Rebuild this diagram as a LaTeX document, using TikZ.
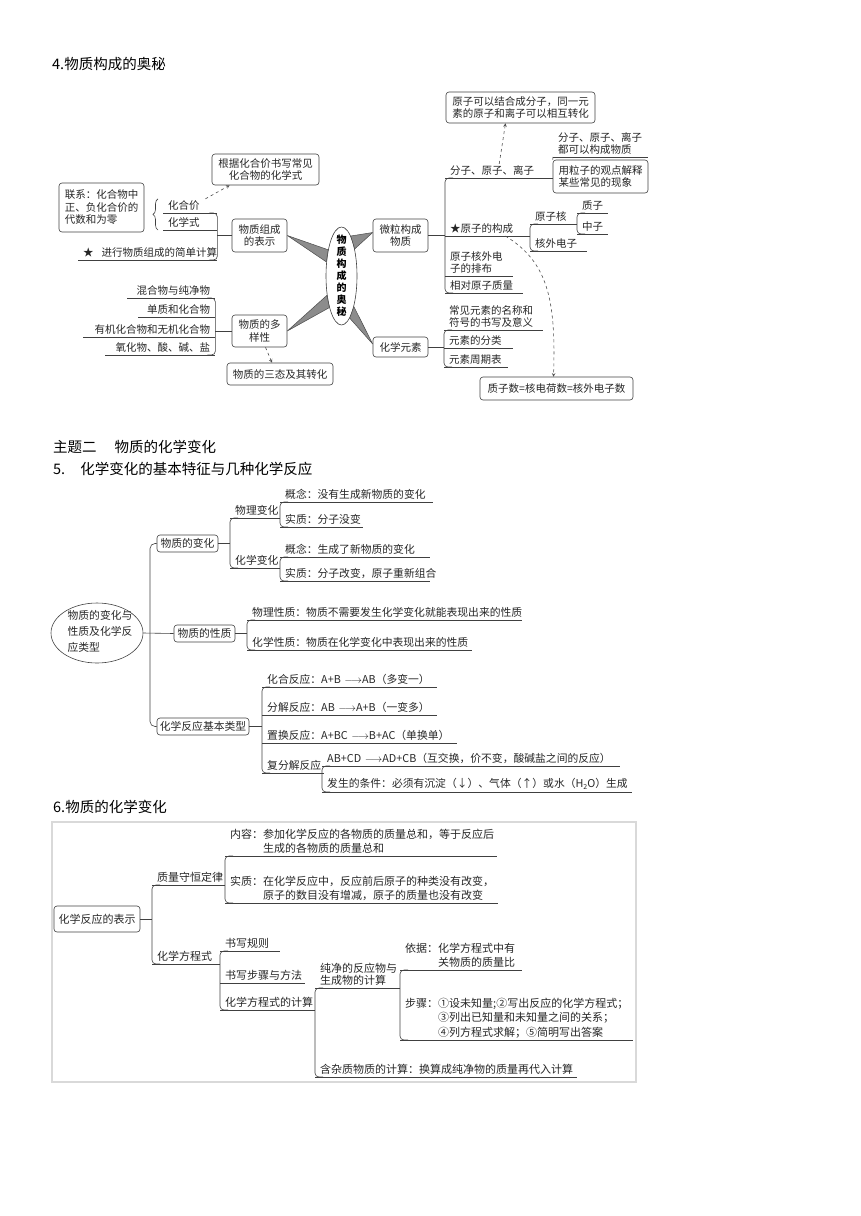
\documentclass[tikz,border=0pt]{standalone}
\usepackage{fontspec}
\setmainfont{Noto Sans CJK SC}
\usepackage{tikz}
\usetikzlibrary{arrows,shapes.geometric,decorations.pathreplacing}
\tikzset{>=stealth}
\tikzstyle{heading} = [anchor=base west, inner sep=0pt, font=\fontsize{14.5}{17}\selectfont]
\tikzstyle{branch} = [draw=black!75, line width=0.6pt]
\tikzstyle{topic} = [rectangle, rounded corners=3pt, draw=black!75, line width=0.6pt, align=center, inner sep=1pt, text=black!85]
\tikzstyle{leaf} = [anchor=south west, inner xsep=5pt, inner ysep=2pt, align=left, text=black!85, append after command={(\tikzlastnode.south west) edge[branch] (\tikzlastnode.south east)}]
\tikzstyle{wedge} = [fill=black!45, draw=black!70, line width=0.5pt, line join=round]
\tikzstyle{dasharrow} = [draw=black!70, line width=0.6pt, dashed, ->]
\tikzstyle{frame} = [draw=black!15, line width=1.2pt]
\tikzstyle{fourth} = [font=\fontsize{10.5}{12.5}\selectfont]
\tikzstyle{fifth} = [font=\fontsize{10.8}{16}\selectfont]
\tikzstyle{sixth} = [font=\fontsize{11}{14.5}\selectfont]

\begin{document}
\begin{tikzpicture}[x=1pt, y=-1pt]

\useasboundingbox (0,0) rectangle (860,1216);

\node (title4) [heading] at (52,69) {4.物质构成的奥秘};

\node (title5a) [heading] at (53,452) {主题二\hspace{18pt}物质的化学变化};

\node (title5b) [heading] at (53,474) {5.\hspace{15pt}化学变化的基本特征与几种化学反应};

\node (title6) [heading] at (53,812) {6.物质的化学变化};

\begin{scope}[fourth]

\node (core) [ellipse, draw=black!75, line width=0.6pt, minimum width=31pt, minimum height=98pt, inner sep=0pt] at (341.5,276) {};
\node (coretext) [font=\fontsize{10}{12}\selectfont\bfseries, align=center, inner sep=0pt] at (341.5,276) {物\\质\\构\\成\\的\\奥\\秘};

\node (calc) [topic, minimum width=107pt, minimum height=31pt] at (265.5,169.5) {根据化合价书写常见\\化合物的化学式};

\node (link) [topic, align=left, minimum width=85pt, minimum height=49pt] at (101.5,207.5) {联系：化合物中\\正、负化合价的\\代数和为零};

\node (show) [topic, minimum width=55pt, minimum height=33pt] at (259.5,235.5) {物质组成\\的表示};

\node (vary) [topic, minimum width=55pt, minimum height=32pt] at (259.5,331) {物质的多\\样性};

\node (state) [topic, minimum width=106pt, minimum height=22pt] at (280,374) {物质的三态及其转化};

\node (micro) [topic, minimum width=55pt, minimum height=33pt] at (400.5,235.5) {微粒构成\\物质};

\node (elem) [topic, minimum width=55pt, minimum height=20pt] at (400.5,347) {化学元素};

\node (trans) [topic, minimum width=149pt, minimum height=31pt] at (520.5,107.5) {原子可以结合成分子，同一元\\素的原子和离子可以相互转化};

\node (explain) [topic, align=left, minimum width=95pt, minimum height=33pt] at (600.5,176.5) {用粒子的观点解释\\某些常见的现象};

\node (equal) [topic, minimum width=153pt, minimum height=23pt] at (556.5,388.5) {质子数=核电荷数=核外电子数};

\node (valence) [leaf, text width=44pt] at (163,213) {化合价};
\node (formula) [leaf, text width=44pt] at (163,230) {化学式};
\node (simple) [leaf, align=right, text width=129pt] at (78,260) {\mbox{★\hspace{8pt}进行物质组成的简单计算}};

\node (mixture) [leaf, align=right, text width=78pt] at (127,298) {混合物与纯净物};
\node (element) [leaf, align=right, text width=67pt] at (138,317) {单质和化合物};
\node (organic) [leaf, align=right, text width=122pt] at (83,337) {有机化合物和无机化合物};
\node (oxide) [leaf, align=right, text width=100pt] at (105,355) {氧化物、酸、碱、盐};

\node (particle) [leaf, text width=98pt] at (445,178) {分子、原子、离子};
\node (atom) [leaf, text width=75pt] at (445,236) {★原子的构成};
\node (shell) [leaf, text width=58pt] at (445,276) {原子核外电\\子的排布};
\node (mass) [leaf, text width=68pt] at (445,293) {相对原子质量};

\node (build) [leaf, text width=85pt] at (553,157) {分子、原子、离子\\都可以构成物质};

\node (nucleus) [leaf, text width=37pt] at (530,224) {原子核};
\node (electron) [leaf, text width=47pt] at (530,251) {核外电子};
\node (proton) [leaf, text width=21pt] at (577,213) {质子};
\node (neutron) [leaf, text width=21pt] at (577,234) {中子};

\node (symbol) [leaf, text width=89pt] at (444,330) {常见元素的名称和\\符号的书写及意义};
\node (sort) [leaf, text width=59pt] at (444,348) {元素的分类};
\node (table) [leaf, text width=54pt] at (444,367) {元素周期表};

\end{scope}

\filldraw [wedge] (show.east) -- (core.117) -- (core.137) -- cycle;
\filldraw [wedge] ([yshift=3pt]micro.west) -- (core.77) -- (core.64) -- cycle;
\filldraw [wedge] (vary.east) -- (core.233) -- (core.249) -- cycle;
\filldraw [wedge] ([yshift=3pt]elem.west) -- (core.281) -- (core.292) -- cycle;

\draw [branch, rounded corners=4pt] ([xshift=-8pt]valence.south east) -- (valence.south east) -- (simple.south east) -- ([xshift=-8pt]simple.south east);
\draw [branch] (show.west) -- (show.west -| valence.south east);
\draw [branch, decorate, decoration={brace, amplitude=5pt}] ([xshift=-5pt]formula.south west) -- ([xshift=-5pt]valence.north west);

\draw [branch, rounded corners=4pt] ([xshift=-8pt]mixture.south east) -- (mixture.south east) -- (oxide.south east) -- ([xshift=-8pt]oxide.south east);
\draw [branch] (vary.west) -- (vary.west -| mixture.south east);

\draw [branch, rounded corners=4pt] ([xshift=8pt]particle.south west) -- (particle.south west) -- (mass.south west) -- ([xshift=8pt]mass.south west);
\draw [branch] (micro.east) -- (micro.east -| atom.south west);
\draw [branch] (build.south west) -- (explain.north west);
\draw [branch, rounded corners=4pt] ([xshift=8pt]nucleus.south west) -- (nucleus.south west) -- (electron.south west) -- ([xshift=8pt]electron.south west);
\draw [branch, rounded corners=4pt] ([xshift=8pt]proton.south west) -- (proton.south west) -- (neutron.south west) -- ([xshift=8pt]neutron.south west);

\draw [branch, rounded corners=4pt] ([xshift=8pt]symbol.south west) -- (symbol.south west) -- (table.south west) -- ([xshift=8pt]table.south west);
\draw [branch] (elem.east) -- (elem.east -| symbol.south west);

\draw [dasharrow] ([xshift=-12pt]valence.north east) -- ([xshift=18pt]calc.south west);
\draw [dasharrow] ([xshift=6pt]vary.south) -- ([xshift=-8pt]state.north);
\draw [dasharrow] (particle.north) -- ([xshift=-15pt]trans.south);
\draw [dasharrow] ([xshift=-25pt]atom.south east) .. controls (548,262) and (556,300) .. ([xshift=-3pt]equal.north);

\begin{scope}[fifth]

\node (change) [ellipse, draw=black!75, line width=0.6pt, minimum width=92pt, minimum height=60pt, inner sep=0pt] at (97,633) {};
\node (changetext) [align=left, inner sep=0pt, text=black!85] at (100,631) {物质的变化与\\性质及化学反\\应类型};

\node (alter) [topic, minimum width=61pt, minimum height=17pt] at (187.5,543.5) {物质的变化};

\node (nature) [topic, minimum width=61pt, minimum height=17pt] at (204.5,633.5) {物质的性质};

\node (kinds) [topic, minimum width=92pt, minimum height=17pt] at (203,726.5) {化学反应基本类型};

\node (physchg) [leaf, text width=40pt] at (230,518) {物理变化};
\node (chemchg) [leaf, text width=40pt] at (230,568) {化学变化};

\node (physidea) [leaf, text width=143pt] at (280,502) {概念：没有生成新物质的变化};
\node (physcore) [leaf, text width=73pt] at (280,527) {实质：分子没变};
\node (chemidea) [leaf, text width=140pt] at (280,557) {概念：生成了新物质的变化};
\node (chemcore) [leaf, text width=140pt] at (280,581) {实质：分子改变，原子重新组合};

\node (physprop) [leaf, text width=265pt] at (247,620) {物理性质：物质不需要发生化学变化就能表现出来的性质};
\node (chemprop) [leaf, text width=215pt] at (247,650) {化学性质：物质在化学变化中表现出来的性质};

\node (combine) [leaf, text width=165pt] at (262,687) {化合反应：A+B $\longrightarrow$AB（多变一）};
\node (split) [leaf, text width=165pt] at (262,715) {分解反应：AB $\longrightarrow$A+B（一变多）};
\node (replace) [leaf, text width=185pt] at (262,743) {置换反应：A+BC $\longrightarrow$B+AC（单换单）};
\node (double) [leaf, text width=52pt] at (262,773) {复分解反应};

\node (swap) [leaf, text width=288pt] at (322,766) {AB+CD $\longrightarrow$AD+CB（互交换，价不变，酸碱盐之间的反应）};
\node (occur) [leaf, text width=300pt] at (322,792) {发生的条件：必须有沉淀（↓）、气体（↑）或水（H\raisebox{-0.35ex}{\fontsize{7}{8}\selectfont 2}O）生成};

\end{scope}

\coordinate (trunk) at (150,633);
\draw [branch] (change.east) -- (nature.west);
\draw [branch, rounded corners=5pt] (alter.west) -| (trunk) |- (kinds.west);

\draw [branch, rounded corners=4pt] ([xshift=8pt]physchg.south west) -- (physchg.south west) -- (chemchg.south west) -- ([xshift=8pt]chemchg.south west);
\draw [branch] (alter.east) -- (alter.east -| physchg.south west);
\draw [branch, rounded corners=4pt] ([xshift=8pt]physidea.south west) -- (physidea.south west) -- (physcore.south west) -- ([xshift=8pt]physcore.south west);
\draw [branch, rounded corners=4pt] ([xshift=8pt]chemidea.south west) -- (chemidea.south west) -- (chemcore.south west) -- ([xshift=8pt]chemcore.south west);

\draw [branch, rounded corners=4pt] ([xshift=8pt]physprop.south west) -- (physprop.south west) -- (chemprop.south west) -- ([xshift=8pt]chemprop.south west);
\draw [branch] (nature.east) -- (nature.east -| physprop.south west);

\draw [branch, rounded corners=4pt] ([xshift=8pt]combine.south west) -- (combine.south west) -- (double.south west) -- ([xshift=8pt]double.south west);
\draw [branch] (kinds.east) -- (kinds.east -| combine.south west);
\draw [branch, rounded corners=4pt] ([xshift=8pt]swap.south west) -- (swap.south west) -- (occur.south west) -- ([xshift=8pt]occur.south west);

\draw [frame] (52,822) rectangle (636,1082);

\begin{scope}[sixth]

\node (express) [topic, minimum width=86pt, minimum height=26pt] at (97,919) {化学反应的表示};

\node (law) [leaf, text width=63pt] at (152,885) {质量守恒定律};
\node (equation) [leaf, text width=58pt] at (152,964) {化学方程式};

\node (content) [leaf, text width=262pt] at (225,856) {内容：参加化学反应的各物质的质量总和，等于反应后\\\hspace*{3em}生成的各物质的质量总和};
\node (essence) [leaf, text width=263pt] at (225,903) {实质：在化学反应中，反应前后原子的种类没有改变，\\\hspace*{3em}原子的数目没有增减，原子的质量也没有改变};

\node (rule) [leaf, text width=50pt] at (220,951) {书写规则};
\node (steps) [leaf, text width=75pt] at (220,983) {书写步骤与方法};
\node (compute) [leaf, text width=85pt] at (220,1010) {化学方程式的计算};

\node (pure) [leaf, text width=75pt, font=\fontsize{11}{12.5}\selectfont] at (315,988) {纯净的反应物与\\生成物的计算};
\node (impure) [leaf, text width=252pt] at (315,1077) {含杂质物质的计算：换算成纯净物的质量再代入计算};

\node (basis) [leaf, text width=112pt] at (400,970) {依据：化学方程式中有\\\hspace*{3em}关物质的质量比};
\node (procedure) [leaf, text width=223pt] at (400,1040) {步骤：①设未知量;②写出反应的化学方程式；\\\hspace*{3em}③列出已知量和未知量之间的关系；\\\hspace*{3em}④列方程式求解；⑤简明写出答案};

\end{scope}

\draw [branch] (express.east) -- (express.east -| law.south west);
\draw [branch, rounded corners=4pt] ([xshift=8pt]law.south west) -- (law.south west) -- (equation.south west) -- ([xshift=8pt]equation.south west);
\draw [branch, rounded corners=4pt] ([xshift=8pt]content.south west) -- (content.south west) -- (essence.south west) -- ([xshift=8pt]essence.south west);
\draw [branch, rounded corners=4pt] ([xshift=8pt]rule.south west) -- (rule.south west) -- (compute.south west) -- ([xshift=8pt]compute.south west);
\draw [branch, rounded corners=4pt] ([xshift=8pt]pure.south west) -- (pure.south west) -- (impure.south west) -- ([xshift=8pt]impure.south west);
\draw [branch, rounded corners=4pt] ([xshift=8pt]basis.south west) -- (basis.south west) -- (procedure.south west) -- ([xshift=8pt]procedure.south west);

\end{tikzpicture}
\end{document}
